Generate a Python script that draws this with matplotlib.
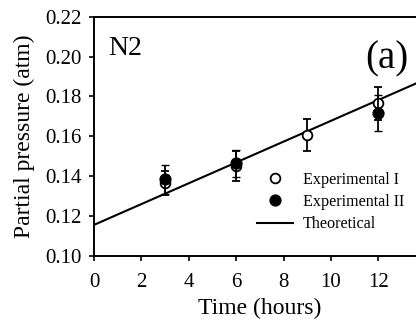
import matplotlib
matplotlib.use("Agg")
import matplotlib.pyplot as plt
from matplotlib.lines import Line2D
from matplotlib.ticker import FormatStrFormatter

plt.rcParams['font.family'] = ['Liberation Serif', 'DejaVu Serif']

# Measured partial pressure of N2 (atm) with error bars
time_exp1 = [3, 6, 9, 12]
pressure_exp1 = [0.1365, 0.1450, 0.1607, 0.1766]
error_exp1 = [0.0060, 0.0075, 0.0082, 0.0083]

time_exp2 = [3, 6, 12]
pressure_exp2 = [0.1385, 0.1465, 0.1716]
error_exp2 = [0.0072, 0.0067, 0.0090]

# Theoretical linear model: p = intercept + slope * t
theory_intercept = 0.1156
theory_slope = 0.00522
theory_time = [0, 14]
theory_pressure = [theory_intercept + theory_slope * t for t in theory_time]

x_ticks = [0, 2, 4, 6, 8, 10, 12]
y_ticks = [0.10, 0.12, 0.14, 0.16, 0.18, 0.20, 0.22]

fig = plt.figure(figsize=(4.16, 3.24), dpi=100)
ax = fig.add_axes([0.2260, 0.2099, 0.7976, 0.7386])

ax.plot(theory_time, theory_pressure, color='black', lw=1.5, zorder=2)

ax.errorbar(time_exp1, pressure_exp1, yerr=error_exp1, fmt='o', ms=7,
            mfc='white', mec='black', mew=1.3, ecolor='black', elinewidth=1.3,
            capsize=3, capthick=1.3, zorder=3)
ax.errorbar(time_exp2, pressure_exp2, yerr=error_exp2, fmt='o', ms=7.8,
            mfc='black', mec='black', mew=1.0, ecolor='black', elinewidth=1.3,
            capsize=3, capthick=1.3, zorder=4)

ax.set_xlim(0, 14)
ax.set_ylim(0.10, 0.22)
ax.set_xticks(x_ticks)
ax.set_yticks(y_ticks)
ax.yaxis.set_major_formatter(FormatStrFormatter('%.2f'))

for side in ['left', 'bottom', 'top']:
    ax.spines[side].set_linewidth(1.4)
ax.spines['right'].set_visible(False)
ax.tick_params(direction='out', length=3.6, width=1.2, labelsize=15,
               top=False, right=False)
ax.tick_params(axis='x', pad=8.5)
ax.tick_params(axis='y', pad=5)

ax.set_xlabel('Time (hours)', fontsize=17, labelpad=4.5)
ax.set_ylabel('Partial pressure (atm)', fontsize=17, labelpad=7.6)

ax.text(0.042, 0.840, 'N2', transform=ax.transAxes, fontsize=20,
        ha='left', va='baseline')
ax.text(0.8816, 0.822, '(a)', transform=ax.transAxes, fontsize=28,
        ha='center', va='center')

handles = [
    Line2D([], [], ls='none', marker='o', ms=7, mfc='white', mec='black', mew=1.3),
    Line2D([], [], ls='none', marker='o', ms=7.8, mfc='black', mec='black'),
    Line2D([], [], color='black', lw=1.5),
]
labels = ['Experimental I', 'Experimental II', 'Theoretical']
fig.legend(handles, labels, loc='upper left', bbox_to_anchor=(257 / 416, 1 - 172 / 324),
           frameon=False, fontsize=11.6, handlelength=2.24, handletextpad=0.62,
           labelspacing=0.38, borderpad=0, borderaxespad=0)

fig.savefig('out.png', dpi=100)
